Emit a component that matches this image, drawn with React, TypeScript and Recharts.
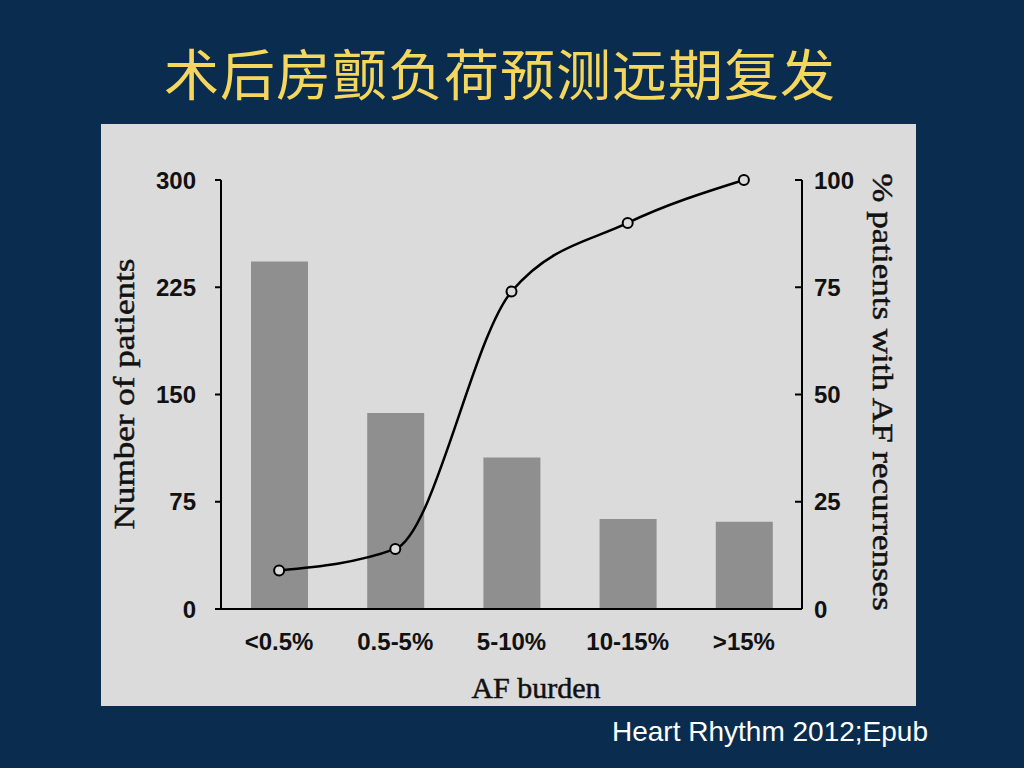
import { ComposedChart, Bar, Line, XAxis, YAxis } from 'recharts'

const categories = ['<0.5%', '0.5-5%', '5-10%', '10-15%', '>15%']
const patients = [243, 137, 106, 63, 61]
const recurrence = [9, 14, 74, 90, 100]
const leftTicks = [0, 75, 150, 225, 300]
const rightTicks = [0, 25, 50, 75, 100]

const data = categories.map((c, i) => ({ cat: c, n: patients[i], pct: recurrence[i] }))

const NAVY = '#0a2c4e'
const PANEL = '#dbdbdb'
const tickFont = {
  fontFamily: '"Liberation Sans", Arial, sans-serif',
  fontWeight: 700,
  fontSize: 24,
  fill: '#111',
}
const serifLabel = {
  position: 'absolute' as const,
  whiteSpace: 'nowrap' as const,
  fontFamily: '"Liberation Serif", "Times New Roman", serif',
  fontSize: 30,
  color: '#111',
  WebkitTextStroke: '0.5px #111',
}

const RightTick = (props: any) => {
  const { x, y, payload } = props
  return (
    <g>
      <line x1={x - 7} x2={x} y1={y} y2={y} stroke="#000" strokeWidth={2} />
      <text x={x + 12} y={y} dy="0.36em" textAnchor="start" {...tickFont}>
        {payload.value}
      </text>
    </g>
  )
}

export default function App() {
  return (
    <div
      style={{
        position: 'absolute',
        left: 0,
        top: 0,
        width: 1024,
        height: 768,
        background: NAVY,
        overflow: 'hidden',
      }}
    >
      <div
        style={{
          position: 'absolute',
          left: 0,
          width: 1000,
          top: 38,
          textAlign: 'center',
          color: '#f4d75c',
          fontSize: 55,
          letterSpacing: 1,
          lineHeight: '66px',
          fontFamily: '"Noto Sans CJK SC", sans-serif',
        }}
      >
        术后房颤负荷预测远期复发
      </div>

      <div
        style={{
          position: 'absolute',
          left: 101,
          top: 124,
          width: 815,
          height: 582,
          background: PANEL,
        }}
      >
        <ComposedChart
          width={815}
          height={582}
          data={data}
          margin={{ top: 56, right: 54, bottom: 47, left: 60 }}
        >
          <XAxis
            dataKey="cat"
            height={50}
            axisLine={{ stroke: '#000', strokeWidth: 2 }}
            tickLine={false}
            tickMargin={18}
            tick={tickFont}
            interval={0}
          />
          <YAxis
            yAxisId="left"
            orientation="left"
            width={60}
            domain={[0, 300]}
            ticks={leftTicks}
            axisLine={{ stroke: '#000', strokeWidth: 2 }}
            tickLine={{ stroke: '#000', strokeWidth: 2 }}
            tickSize={6}
            tickMargin={19}
            tick={tickFont}
          />
          <YAxis
            yAxisId="right"
            orientation="right"
            width={60}
            domain={[0, 100]}
            ticks={rightTicks}
            axisLine={{ stroke: '#000', strokeWidth: 2 }}
            tickLine={false}
            tickSize={0}
            tickMargin={0}
            tick={<RightTick />}
          />
          <Bar
            yAxisId="left"
            dataKey="n"
            fill="#8f8f8f"
            barSize={57}
            isAnimationActive={false}
          />
          <Line
            yAxisId="right"
            dataKey="pct"
            type="monotone"
            stroke="#000"
            strokeWidth={2.5}
            dot={{ r: 5, fill: PANEL, stroke: '#000', strokeWidth: 2 }}
            activeDot={false}
            isAnimationActive={false}
          />
        </ComposedChart>
      </div>

      <div
        style={{
          ...serifLabel,
          left: 124,
          top: 394,
          transform: 'translate(-50%, -50%) rotate(-90deg) scaleX(1.17)',
        }}
      >
        Number of patients
      </div>
      <div
        style={{
          ...serifLabel,
          left: 883,
          top: 392,
          transform: 'translate(-50%, -50%) rotate(90deg) scaleX(1.167)',
        }}
      >
        % patients with AF recurrenses
      </div>
      <div
        style={{
          ...serifLabel,
          left: 536,
          top: 688,
          transform: 'translate(-50%, -50%)',
        }}
      >
        AF burden
      </div>

      <div
        style={{
          position: 'absolute',
          left: 612,
          top: 716,
          whiteSpace: 'nowrap',
          fontFamily: '"Liberation Sans", Arial, sans-serif',
          fontSize: 28,
          color: '#fff',
        }}
      >
        Heart Rhythm 2012;Epub
      </div>
    </div>
  )
}
